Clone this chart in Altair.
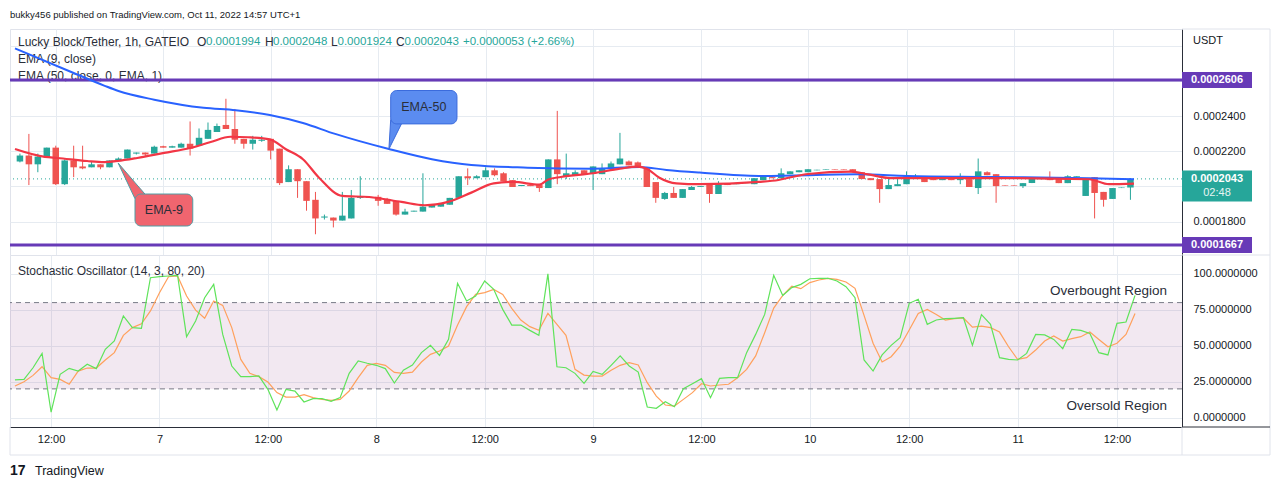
import altair as alt
import pandas as pd

# ---------------- data (prices in units of 1e-7 USDT) ----------------
opens = [2142, 2176, 2126, 2165, 2221, 2013, 2148, 2114, 2109, 2126,
         2109, 2148, 2159, 2187, 2193, 2187, 2229, 2221, 2221, 2243,
         2232, 2271, 2310, 2350, 2327, 2271, 2243, 2260, 2271, 2215,
         2025, 2098, 2030, 1924, 1823, 1823, 1806, 1818, 1935, 1941,
         1941, 1929, 1918, 1840, 1857, 1857, 1880, 1885, 1896, 1935,
         2058, 2047, 2053, 2092, 2075, 2036, 2002, 2008, 2008, 1991,
         2154, 2058, 2064, 2092, 2075, 2070, 2103, 2126, 2142, 2137,
         2103, 2025, 1929, 1963, 1935, 1980, 1997, 2013, 1957, 2019,
         2013, 2019, 2013, 2036, 2053, 2047, 2070, 2081, 2081, 2092,
         2095, 2098, 2098, 2098, 2081, 2047, 2042, 1985, 2002, 2013,
         2047, 2058, 2047, 2036, 2047, 2036, 2042, 1991, 2081, 2070,
         2008, 2008, 2002, 2019, 2042, 2053, 2042, 2019, 2053, 1946,
         2053, 1969, 1929, 1991, 1994]
highs = [2187, 2299, 2187, 2221, 2232, 2154, 2232, 2232, 2142, 2126,
         2148, 2165, 2210, 2193, 2193, 2232, 2232, 2232, 2249, 2370,
         2330, 2364, 2358, 2499, 2441, 2271, 2288, 2288, 2271, 2215,
         2120, 2098, 2030, 1969, 1840, 1823, 1969, 1980, 2058, 1941,
         1952, 1935, 1918, 1873, 1862, 2075, 1899, 1901, 1935, 2058,
         2103, 2064, 2109, 2103, 2081, 2036, 2008, 2008, 2008, 2154,
         2430, 2187, 2092, 2092, 2114, 2131, 2142, 2305, 2148, 2142,
         2109, 2025, 1969, 1997, 1985, 2002, 2002, 2013, 2030, 2019,
         2019, 2025, 2047, 2058, 2053, 2103, 2086, 2092, 2098, 2095,
         2098, 2098, 2098, 2098, 2081, 2047, 2042, 2047, 2042, 2086,
         2070, 2058, 2047, 2047, 2047, 2075, 2042, 2159, 2086, 2070,
         2008, 2008, 2019, 2053, 2047, 2086, 2042, 2064, 2058, 2047,
         2053, 1969, 1991, 1994, 2048]
lows = [2137, 2008, 2081, 2165, 2008, 2008, 2053, 2098, 2109, 2098,
        2109, 2148, 2159, 2182, 2170, 2187, 2221, 2221, 2221, 2176,
        2232, 2271, 2310, 2327, 2243, 2215, 2210, 2254, 2154, 2008,
        2025, 1935, 1862, 1728, 1812, 1767, 1806, 1818, 1929, 1935,
        1890, 1901, 1834, 1840, 1857, 1857, 1880, 1885, 1896, 1935,
        2008, 2047, 2053, 2058, 2030, 1997, 2002, 2002, 1969, 1991,
        2013, 2042, 2064, 2070, 1980, 2070, 2103, 2126, 2120, 2109,
        1997, 1907, 1924, 1935, 1935, 1980, 1997, 1907, 1957, 2008,
        2013, 2019, 2013, 2036, 2047, 2047, 2070, 2081, 2081, 2092,
        2095, 2095, 2095, 2081, 2042, 2036, 1907, 1985, 2002, 2013,
        2047, 2025, 2036, 2036, 2036, 2013, 1997, 1957, 2064, 1907,
        2005, 2005, 1991, 2019, 2042, 2036, 2019, 2019, 2053, 1946,
        1818, 1885, 1929, 1991, 1924]
closes = [2176, 2126, 2170, 2221, 2013, 2148, 2109, 2103, 2126, 2109,
          2148, 2159, 2210, 2193, 2182, 2226, 2221, 2229, 2243, 2215,
          2277, 2322, 2344, 2327, 2266, 2243, 2266, 2266, 2204, 2019,
          2098, 2030, 1918, 1818, 1829, 1806, 1834, 1935, 1941, 1935,
          1918, 1901, 1840, 1857, 1862, 1885, 1896, 1901, 1935, 2058,
          2047, 2058, 2092, 2064, 2030, 1997, 2008, 2002, 1991, 2154,
          2070, 2075, 2081, 2070, 2114, 2103, 2131, 2159, 2120, 2109,
          1997, 1935, 1963, 1935, 1985, 1997, 2002, 1957, 2013, 2008,
          2019, 2025, 2047, 2058, 2047, 2075, 2086, 2092, 2098, 2095,
          2098, 2095, 2095, 2081, 2042, 2036, 1985, 2008, 2013, 2058,
          2058, 2025, 2036, 2047, 2036, 2047, 1997, 2086, 2064, 2002,
          2005, 2005, 2019, 2053, 2047, 2036, 2019, 2058, 2058, 2047,
          1963, 1924, 1991, 1994, 2043]

ema9_bar = [-0.55, 2.8, 4.2, 7.5, 9.4, 10.9, 13.1, 16.1, 19.0, 21.3,
            23.5, 25.5, 27.9, 29.7, 31.6, 33.4, 36.0, 39.0, 42.6, 45.2,
            47.8, 50.4, 52.9, 55.1, 58.0, 59.0, 60.4, 64.0, 67.0, 68.9,
            70.0, 71.4, 73.3, 75.9, 82.5, 84.7, 86.2, 88.0, 92.8, 94.7,
            97.2, 101.0, 108.3, 119.4, 121.6, 124.4]
ema9_val = [2213, 2168, 2162, 2145, 2139, 2145, 2162, 2191, 2219, 2253,
            2283, 2280, 2268, 2212, 2155, 2050, 1946, 1940, 1912, 1893,
            1912, 1965, 2018, 2026, 2010, 2040, 2054, 2075, 2101, 2113,
            2101, 2050, 2018, 2013, 2026, 2037, 2054, 2071, 2084, 2069,
            2048, 2048, 2048, 2041, 2013, 2016]
ema50_bar = [-0.55, 5.8, 9.4, 11.0, 15.0, 20.5, 24.1, 27.9, 31.6, 35.2,
             41.2, 46.0, 50.4, 56.7, 64.0, 69.2, 72.2, 75.9, 82.5, 93.6,
             99.1, 108.3, 119.4, 124.4]
ema50_val = [2786, 2650, 2574, 2543, 2494, 2448, 2434, 2407, 2361, 2299,
             2213, 2155, 2122, 2107, 2101, 2111, 2094, 2079, 2060, 2069,
             2060, 2054, 2047, 2041]

stoch_k = [26.2, 26.6, 34.7, 44.7, 3.9, 30.1, 34.3, 32.4, 37.1, 34.1,
           47.5, 53.3, 70.7, 62.6, 62.1, 97.3, 98.0, 98.5, 99.0, 56.3,
           67.2, 83.4, 92.7, 57.9, 35.9, 28.5, 28.5, 29.0, 19.7, 5.3,
           19.7, 18.5, 10.9, 13.2, 13.2, 11.3, 13.9, 30.8, 39.4, 37.8,
           36.4, 34.1, 24.1, 33.0, 36.6, 45.2, 50.3, 43.3, 54.4, 93.4,
           81.1, 84.6, 95.0, 89.2, 75.3, 64.4, 64.4, 60.7, 57.2, 100.0,
           35.4, 34.7, 30.8, 23.9, 32.2, 30.1, 36.4, 42.9, 35.9, 31.7,
           7.4, 6.5, 11.1, 7.6, 20.1, 23.6, 27.1, 13.9, 27.3, 27.8,
           27.8, 45.2, 57.9, 71.8, 99.0, 85.0, 90.4, 92.7, 96.6, 96.9,
           96.9, 95.0, 91.1, 83.4, 40.1, 32.4, 43.6, 50.3, 55.6, 79.5,
           82.3, 64.9, 67.9, 68.8, 69.1, 69.5, 50.3, 71.6, 64.9, 41.7,
           40.5, 40.1, 44.7, 57.9, 57.5, 54.4, 48.0, 61.4, 60.7, 58.6,
           45.2, 43.6, 65.6, 66.5, 85.0]
stoch_d = [22.0, 25.0, 29.4, 35.4, 27.8, 26.6, 23.2, 32.4, 34.5, 34.5,
           40.1, 45.2, 57.2, 62.6, 65.3, 74.2, 86.9, 98.0, 98.5, 84.6,
           74.8, 69.1, 81.1, 78.1, 62.6, 40.5, 30.8, 28.5, 24.8, 17.4,
           14.3, 14.3, 16.0, 13.9, 12.7, 12.0, 12.7, 18.5, 27.8, 36.4,
           37.8, 36.4, 31.5, 30.8, 31.7, 38.7, 44.0, 46.3, 49.8, 64.4,
           77.2, 85.7, 86.9, 89.2, 85.7, 76.0, 67.9, 63.3, 60.7, 72.5,
           64.9, 57.2, 33.6, 29.6, 28.9, 28.9, 32.9, 36.4, 38.2, 36.6,
           24.3, 15.0, 8.8, 8.1, 12.7, 17.4, 23.6, 22.0, 22.7, 23.2,
           27.8, 33.6, 42.9, 59.1, 76.2, 85.0, 91.5, 89.7, 93.9, 95.7,
           96.9, 96.2, 94.3, 89.9, 71.1, 51.7, 38.7, 42.4, 49.8, 60.9,
           72.5, 75.3, 71.8, 67.9, 68.8, 69.3, 63.0, 63.7, 62.6, 59.5,
           49.3, 40.5, 41.7, 47.0, 53.3, 56.8, 53.3, 54.9, 56.3, 59.5,
           54.4, 49.3, 51.7, 57.9, 72.5]

tick_bars = [4, 16, 28, 40, 52, 64, 76, 88, 99, 111, 122]
tick_labels = ["12:00", "7", "12:00", "8", "12:00", "9", "12:00", "10", "12:00", "11", "12:00"]

price_grid = [1800, 2000, 2200, 2400, 2600, 2800]
price_hidden = [2000, 2600, 2800]
level_lines = [2606, 1667]
last_price = 2043
stoch_levels = [80, 20]
stoch_ticks = [0, 25, 50, 75, 100]

# callouts (bar index / price anchored)
callout_text = ["EMA-9", "EMA-50"]
callout_x0 = [12.85, 41.4]
callout_x1 = [19.3, 48.8]
callout_p0 = [1775, 2356]
callout_p1 = [1957, 2546]
wedge9 = {"bar": [10.96, 12.85, 13.96], "lo": [2134, 1930, 1930], "hi": [2134, 2022, 1957]}
wedge50 = {"bar": [41.2, 41.4, 42.6], "lo": [2212, 2233, 2356], "hi": [2212, 2380, 2380]}

# ---------------- style ----------------
FONT = "Liberation Sans"
UP, DOWN = "#26a69a", "#ef5350"
GRID = "#e6ebf1"
FRAME = "#e0e3eb"
DARK = "#131722"
TXT = "#2a2e39"
PURPLE = "#673ab7"
W, H1, H2 = 1172, 226, 172

xscale = alt.Scale(domain=[-0.55, 129.2], nice=False, zero=False)
pscale = alt.Scale(domain=[1610, 2896], nice=False, zero=False)
sscale = alt.Scale(domain=[-6.5, 113.1], nice=False, zero=False)

x_label_expr = " : ".join(f"datum.value == {b} ? '{t}'" for b, t in zip(tick_bars, tick_labels)) + " : ''"
hide_expr = " || ".join(f"datum.value == {v}" for v in price_hidden)

x_axis_price = alt.Axis(values=tick_bars, labels=False, ticks=False, domain=False,
                        grid=True, gridColor=GRID, title=None)
x_axis_stoch = alt.Axis(values=tick_bars, labelExpr=x_label_expr, ticks=False, domain=True,
                        domainColor=TXT, grid=True, gridColor=GRID, labelFontSize=11,
                        labelColor=DARK, labelPadding=6, labelFont=FONT, title=None,
                        labelAngle=0, labelOverlap=False, labelFlush=False)
p_axis = alt.Axis(orient="right", values=price_grid,
                  labelExpr=f"({hide_expr}) ? '' : '0.000' + datum.value",
                  ticks=False, domain=True, domainColor=TXT, grid=True, gridColor=GRID,
                  labelAlign="left", labelPadding=11, labelFontSize=11, labelColor=DARK,
                  labelFont=FONT, title=None, labelOverlap=False)
s_axis = alt.Axis(orient="right", values=stoch_ticks, format=".7f", ticks=False, domain=True,
                  domainColor=TXT, grid=True, gridColor=GRID, labelAlign="left",
                  labelPadding=11, labelFontSize=11, labelColor=DARK, labelFont=FONT,
                  title=None, labelOverlap=False)


def PX(f):
    return alt.X(f, type="quantitative", scale=xscale, axis=x_axis_price)


def SX(f):
    return alt.X(f, type="quantitative", scale=xscale, axis=x_axis_stoch)


def PY(f):
    return alt.Y(f, type="quantitative", scale=pscale, axis=p_axis)


def SY(f):
    return alt.Y(f, type="quantitative", scale=sscale, axis=s_axis)


dummy = pd.DataFrame({"d": [0]})


def label(text, x, y, size=12, color=TXT, align="left", weight="normal"):
    return alt.Chart(dummy).mark_text(align=align, baseline="middle", font=FONT, fontSize=size,
                                      color=color, fontWeight=weight).encode(
        x=alt.value(x), y=alt.value(y), text=alt.value(text))


def hline(x0, x1, y, color=FRAME):
    return alt.Chart(dummy).mark_rule(color=color, strokeWidth=1).encode(
        x=alt.value(x0), x2=alt.value(x1), y=alt.value(y))


def vline(x, y0, y1, color=FRAME):
    return alt.Chart(dummy).mark_rule(color=color, strokeWidth=1).encode(
        x=alt.value(x), y=alt.value(y0), y2=alt.value(y1))


# ---------------- price pane ----------------
candles = pd.DataFrame({"bar": list(range(len(closes))), "o": opens, "h": highs, "l": lows, "c": closes})
candles["col"] = [UP if c >= o else DOWN for o, c in zip(opens, closes)]

wicks = alt.Chart(candles).mark_rule(strokeWidth=1).encode(
    x=PX("bar"), y=PY("l"), y2=alt.Y2("h"), color=alt.Color("col:N", scale=None))
bodies = alt.Chart(candles).mark_bar(size=6.5).encode(
    x=PX("bar"), y=PY("o"), y2=alt.Y2("c"), color=alt.Color("col:N", scale=None))

ema9 = alt.Chart(pd.DataFrame({"bar": ema9_bar, "v": ema9_val})).mark_line(
    color="#f23645", strokeWidth=2.2, interpolate="monotone").encode(x=PX("bar"), y=PY("v"))
ema50 = alt.Chart(pd.DataFrame({"bar": ema50_bar, "v": ema50_val})).mark_line(
    color="#2962ff", strokeWidth=2, interpolate="monotone").encode(x=PX("bar"), y=PY("v"))

levels = alt.Chart(pd.DataFrame({"p": level_lines})).mark_rule(color=PURPLE, strokeWidth=3).encode(y=PY("p"))
last_line = alt.Chart(pd.DataFrame({"p": [last_price]})).mark_rule(
    color=UP, strokeWidth=1, strokeDash=[1, 3]).encode(y=PY("p"))

cdf = pd.DataFrame({"t": callout_text, "x0": callout_x0, "x1": callout_x1, "p0": callout_p0, "p1": callout_p1})
cdf["xm"] = (cdf["x0"] + cdf["x1"]) / 2
cdf["pm"] = (cdf["p0"] + cdf["p1"]) / 2
cdf["fill"] = ["#f0656f", "#5b8cf0"]
cdf["stroke"] = ["#4f9ea5", "#3b6bdc"]

w9 = alt.Chart(pd.DataFrame(wedge9)).mark_area(color="#f0656f", stroke="#4f9ea5", strokeWidth=1).encode(
    x=PX("bar"), y=PY("lo"), y2=alt.Y2("hi"))
w50 = alt.Chart(pd.DataFrame(wedge50)).mark_area(color="#5b8cf0", stroke="#3b6bdc", strokeWidth=1).encode(
    x=PX("bar"), y=PY("lo"), y2=alt.Y2("hi"))
boxes = alt.Chart(cdf).mark_rect(cornerRadius=6, strokeWidth=1).encode(
    x=PX("x0"), x2=alt.X2("x1"), y=PY("p0"), y2=alt.Y2("p1"),
    fill=alt.Fill("fill:N", scale=None), stroke=alt.Stroke("stroke:N", scale=None))
box_text = alt.Chart(cdf).mark_text(font=FONT, fontSize=12.5, color=TXT).encode(
    x=PX("xm"), y=PY("pm"), text="t:N")

tags = alt.Chart(pd.DataFrame({"p": level_lines, "t": [f"0.000{v}" for v in level_lines]}))
tag_bg = tags.mark_rule(color=PURPLE, strokeWidth=16, strokeCap="butt").encode(
    x=alt.value(W), x2=alt.value(W + 70), y=PY("p"))
tag_txt = tags.mark_text(color="white", font=FONT, fontSize=11, fontWeight="bold").encode(
    x=alt.value(W + 35), y=PY("p"), text="t:N")
last = alt.Chart(pd.DataFrame({"p": [last_price], "t": [f"0.000{last_price}"], "cd": ["02:48"]}))
last_bg = last.mark_rule(color=UP, strokeWidth=31, strokeCap="butt", yOffset=7).encode(
    x=alt.value(W), x2=alt.value(W + 70), y=PY("p"))
last_txt = last.mark_text(color="white", font=FONT, fontSize=11, fontWeight="bold").encode(
    x=alt.value(W + 35), y=PY("p"), text="t:N")
last_cd = last.mark_text(color="#e6f5f3", font=FONT, fontSize=11, dy=14).encode(
    x=alt.value(W + 35), y=PY("p"), text="cd:N")

top_anchor = alt.Chart(dummy).mark_rect(opacity=0).encode(
    x=alt.value(0), x2=alt.value(1), y=alt.value(-20), y2=alt.value(-19))

legend_layers = [
    label("bukky456 published on TradingView.com, Oct 11, 2022 14:57 UTC+1", 0, -14, size=9.5, color=DARK),
    label("Lucky Block/Tether, 1h, GATEIO", 8, 13),
    label("O", 187, 13), label("0.0001994", 196, 13, size=11.5, color=UP),
    label("H", 255, 13), label("0.0002048", 263, 13, size=11.5, color=UP),
    label("L", 321, 13), label("0.0001924", 327.5, 13, size=11.5, color=UP),
    label("C", 386, 13), label("0.0002043", 394.5, 13, size=11.5, color=UP),
    label("+0.0000053 (+2.66%)", 453, 13, size=11.5, color=UP),
    label("EMA (9, close)", 8, 30),
    label("EMA (50, close, 0, EMA, 1)", 8, 47),
]

price = alt.layer(
    top_anchor, *legend_layers, levels, last_line, wicks, bodies, ema50, ema9,
    w9, w50, boxes, box_text, tag_bg, tag_txt, last_bg, last_txt, last_cd,
    label("USDT", W + 11, 12, size=11, color=DARK),
    hline(W, 1260, 0), vline(1260, 0, H1), hline(W, 1260, H1),
).properties(width=W, height=H1)

# ---------------- stochastic pane ----------------
sdf = pd.DataFrame({"bar": list(range(len(stoch_k))), "k": stoch_k, "d": stoch_d})
band = alt.Chart(pd.DataFrame({"a": [stoch_levels[1]], "b": [stoch_levels[0]]})).mark_rect(
    color="#9c4f96", opacity=0.13).encode(x=alt.value(0), x2=alt.value(W), y=SY("a"), y2=alt.Y2("b"))
dashes = alt.Chart(pd.DataFrame({"v": stoch_levels})).mark_rule(
    color="#787b86", strokeDash=[5, 4], strokeWidth=1).encode(y=SY("v"))
kline = alt.Chart(sdf).mark_line(color="#5fe35a", strokeWidth=1.2).encode(x=SX("bar"), y=SY("k"))
dline = alt.Chart(sdf).mark_line(color="#ffa05c", strokeWidth=1.2).encode(x=SX("bar"), y=SY("d"))

stoch = alt.layer(
    band, dashes, dline, kline,
    label("Stochastic Oscillator (14, 3, 80, 20)", 8, 16),
    label("Overbought Region", 1157, 36, size=13.5, color=TXT, align="right"),
    label("Oversold Region", 1157, 151, size=13.5, color=TXT, align="right"),
    label("TradingView", 25, 216, size=12.5, color=DARK),
    label("17", 0, 216, size=14, color=DARK, weight="bold"),
    vline(1260, 0, 200), hline(0, 1260, 200), vline(0, H2, 200),
    hline(W, 1260, H2, color=TXT), vline(W, H2, 200),
).properties(width=W, height=H2)

chart = alt.vconcat(price, stoch, spacing=0, bounds="flush").properties(
    padding={"left": 0, "top": 0, "right": 0, "bottom": 0},
    autosize=alt.AutoSizeParams(type="pad"),
).configure_view(stroke=FRAME, strokeWidth=1)

chart.save("out.html", embed_options={"renderer": "svg", "actions": False})
